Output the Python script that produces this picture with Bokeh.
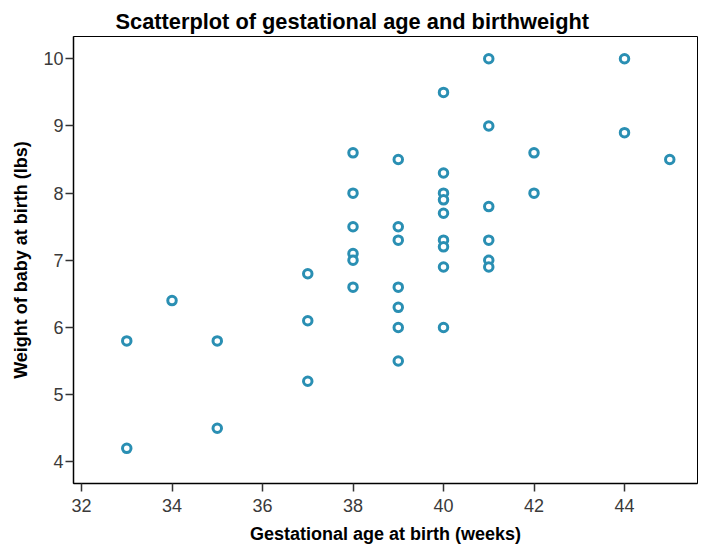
from bokeh.plotting import figure
from bokeh.models import Title, Range1d, FixedTicker
from bokeh.embed import file_html
from bokeh.resources import INLINE

# Data
gestational_age = [33, 33, 34, 35, 35, 37, 37, 37,
                   38, 38, 38, 38, 38, 38,
                   39, 39, 39, 39, 39, 39, 39,
                   40, 40, 40, 40, 40, 40, 40, 40, 40,
                   41, 41, 41, 41, 41, 41,
                   42, 42, 44, 44, 45]
birthweight = [5.8, 4.2, 6.4, 5.8, 4.5, 6.8, 6.1, 5.2,
               8.6, 8.0, 7.5, 7.1, 7.0, 6.6,
               8.5, 7.5, 7.3, 6.6, 6.3, 6.0, 5.5,
               9.5, 8.3, 8.0, 7.9, 7.7, 7.3, 7.2, 6.9, 6.0,
               10.0, 9.0, 7.8, 7.3, 7.0, 6.9,
               8.6, 8.0, 10.0, 8.9, 8.5]
x_ticks = [32, 34, 36, 38, 40, 42, 44]
y_ticks = [4, 5, 6, 7, 8, 9, 10]

title_text = "Scatterplot of gestational age and birthweight"
x_title = "Gestational age at birth (weeks)"
y_title = "Weight of baby at birth (lbs)"

TICK_FONT = "Liberation Sans"
BOLD_FONT = "Liberation Sans"

p = figure(width=701, height=547, output_backend="svg", toolbar_location=None,
           x_range=Range1d(31.823, 45.613), y_range=Range1d(3.677, 10.332),
           min_border_left=73, min_border_right=4, min_border_top=36, min_border_bottom=64,
           background_fill_color="white", border_fill_color="white")

p.title = Title(text=title_text, align="left", offset=42, text_font=BOLD_FONT,
                text_font_size="21.8px", text_font_style="bold", text_color="black",
                standoff=5)

p.outline_line_color = "black"
p.outline_line_width = 1
p.xgrid.visible = False
p.ygrid.visible = False

for ax, ticks in ((p.xaxis, x_ticks), (p.yaxis, y_ticks)):
    ax.ticker = FixedTicker(ticks=ticks)
    ax.minor_tick_line_color = None
    ax.major_tick_out = 8
    ax.major_tick_in = 0
    ax.major_tick_line_color = "#333333"
    ax.major_tick_line_width = 1.5
    ax.axis_line_color = "black"
    ax.axis_line_width = 1.5
    ax.major_label_text_font = TICK_FONT
    ax.major_label_text_font_size = "18px"
    ax.major_label_text_color = "#3a3a3a"
    ax.axis_label_text_font = BOLD_FONT
    ax.axis_label_text_font_size = "18px"
    ax.axis_label_text_font_style = "bold"
    ax.axis_label_text_color = "black"

p.xaxis.axis_label = x_title
p.yaxis.axis_label = y_title
p.xaxis.major_label_standoff = 7
p.yaxis.major_label_standoff = 2
p.xaxis.axis_label_standoff = 9
p.yaxis.axis_label_standoff = 9

p.scatter(gestational_age, birthweight, marker="circle", size=8.5,
          fill_color="white", line_color="#2a8fb3", line_width=3)

open("out.html", "w").write(file_html(p, INLINE))
